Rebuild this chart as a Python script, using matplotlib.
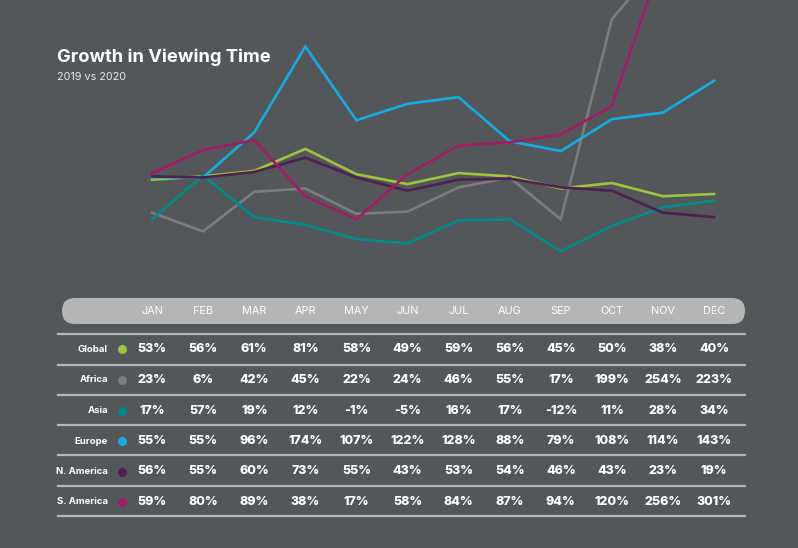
import numpy as np
import matplotlib.pyplot as plt
from matplotlib.patches import FancyBboxPatch

months = ['JAN', 'FEB', 'MAR', 'APR', 'MAY', 'JUN',
          'JUL', 'AUG', 'SEP', 'OCT', 'NOV', 'DEC']
regions = ['Global', 'Africa', 'Asia', 'Europe', 'N. America', 'S. America']
global_ = [53, 56, 61, 81, 58, 49, 59, 56, 45, 50, 38, 40]
africa = [23, 6, 42, 45, 22, 24, 46, 55, 17, 199, 254, 223]
asia = [17, 57, 19, 12, -1, -5, 16, 17, -12, 11, 28, 34]
europe = [55, 55, 96, 174, 107, 122, 128, 88, 79, 108, 114, 143]
n_america = [56, 55, 60, 73, 55, 43, 53, 54, 46, 43, 23, 19]
s_america = [59, 80, 89, 38, 17, 58, 84, 87, 94, 120, 256, 301]
series = [global_, africa, asia, europe, n_america, s_america]
colors = ['#9cc43c', '#7b7c7d', '#008b8b', '#13addf', '#4e2150', '#a01c63']

bg = '#54575a'
W, H = 798, 548
fig = plt.figure(figsize=(W / 100, H / 100), dpi=100, facecolor=bg)

# line chart - full figure axes, x in month index, y in percent
x0, dx = 152, 51.1  # pixel pos of JAN and month spacing
y0, sc = 238, 1.1   # pixel pos of 0% and pixels per percent
ax = fig.add_axes([0, 0, 1, 1])
ax.set_facecolor('none')
ax.set_xlim(-x0 / dx, (W - x0) / dx)
ax.set_ylim((y0 - H) / sc, y0 / sc)
ax.axis('off')
xs = np.arange(len(months))
draw_order = [1, 4, 0, 2, 5, 3]
for i in draw_order:
    ax.plot(xs, series[i], color=colors[i], lw=1.9, solid_joinstyle='miter', zorder=2 + i)

fnt = 'Inter'
fig.text(57 / W, 1 - 57 / H, 'Growth in Viewing Time', color='white',
         fontsize=13.2, fontweight='bold', family=fnt, va='center')
fig.text(57 / W, 1 - 77 / H, '2019 vs 2020', color='#e6e6e6',
         fontsize=7.8, family=fnt, va='center')

# table in pixel coords
tb = fig.add_axes([0, 0, 1, 1])
tb.set_facecolor('none')
tb.set_xlim(0, W)
tb.set_ylim(H, 0)
tb.axis('off')

tb.add_patch(FancyBboxPatch((62, 298), 683, 26,
                            boxstyle='round,pad=0,rounding_size=13',
                            fc='#b4b5b5', ec='none'))
for j, m in enumerate(months):
    tb.text(x0 + j * dx, 311.5, m, color='white', fontsize=7.8, family=fnt,
            ha='center', va='center')

sep_y = [334, 364.5, 394.5, 425, 455, 485.5, 515.5]
for y in sep_y:
    tb.plot([58, 745], [y, y], color='#b4b5b5', lw=1.6)

row_y = [349, 380, 410.5, 441, 471.5, 502]
for i, name in enumerate(regions):
    y = row_y[i]
    tb.text(108, y, name, color='white', fontsize=6.9, fontweight='bold',
            family=fnt, ha='right', va='center')
    tb.plot([122], [y], 'o', color=colors[i], ms=6.5, mec='none')
    for j, v in enumerate(series[i]):
        lab = f'{v}%'
        tb.text(x0 + j * dx, y, lab, color='white', fontsize=9,
                fontweight='heavy', family=fnt, ha='center', va='center')

fig.savefig('out.png', dpi=100, facecolor=bg)
